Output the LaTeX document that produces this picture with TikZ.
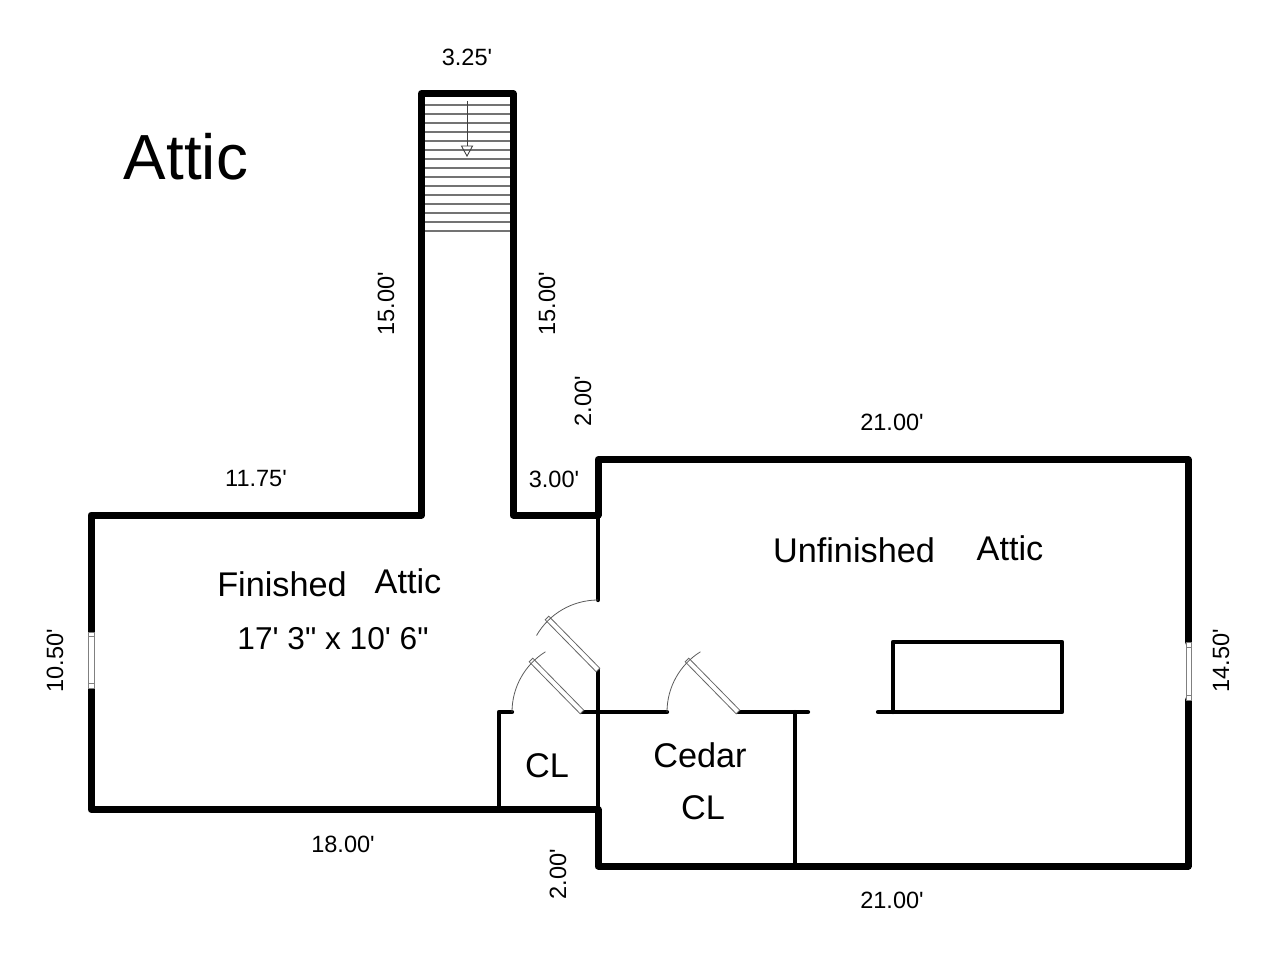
\documentclass[tikz,border=0pt]{standalone}
\usepackage{fontspec}
\setmainfont{Liberation Sans}[Ligatures=TeXOff]
\usetikzlibrary{arrows.meta}

% door leaf, given by its hinge
\newcommand{\doorleaf}[1]{\draw[door leaf] (#1) ++(1.8,-1.8) -- ++(-3.6,3.6) -- ++(-51,-52) -- ++(3.6,-3.6) -- cycle;}

\begin{document}
\begin{tikzpicture}[
    x=0.02cm, y=-0.02cm,
    % --- styles ---
    outer wall/.style={line width=7*0.569pt, line join=round, line cap=round},
    inner wall/.style={line width=4.2*0.569pt, line join=round, line cap=round},
    door leaf/.style={line width=0.45pt, draw=black!60, fill=white},
    door swing/.style={line width=0.45pt, draw=black!65},
    window pane/.style={line width=0.45pt, draw=black!50, fill=white},
    stair tread/.style={line width=0.6pt, draw=black!55},
    stair arrow/.style={line width=0.5pt, draw=black!75, -{Triangle[open, length=6.5pt, width=7pt]}},
    dim text/.style={font=\fontsize{13.4}{16}\selectfont},
    room text/.style={font=\fontsize{19.5}{23}\selectfont},
    size text/.style={font=\fontsize{18}{22}\selectfont},
    title text/.style={font=\fontsize{36.3}{42}\selectfont}
]
    \useasboundingbox (0,0) rectangle (1280,960);

    % --- 1. outer walls ---
    \draw[outer wall] (598,515) -- (513,515) -- (513,93.5) -- (421.5,93.5) -- (421.5,515) -- (91,515) -- (91,632);
    \draw[outer wall] (91,688) -- (91,809.5) -- (598,809.5) -- (598,866) -- (1188,866) -- (1188,700);
    \draw[outer wall] (1188,642) -- (1188,459.5) -- (598,459.5) -- (598,515);

    % --- 2. inner walls ---
    \draw[inner wall] (598,515) -- (598,600);
    \draw[inner wall] (598,670) -- (598,809);
    \draw[inner wall] (512,712) -- (499,712) -- (499,809);
    \draw[inner wall] (582,712) -- (667,712);
    \draw[inner wall] (738,712) -- (808,712);
    \draw[inner wall] (795,712) -- (795,866);
    \draw[inner wall] (878,712) -- (1062,712) -- (1062,642) -- (893,642) -- (893,712);

    % --- 3. doors ---
    \doorleaf{598,670}
    \draw[door swing] (598,600) arc[start angle=90, end angle=150, radius=1.42cm];
    \doorleaf{582,712}
    \draw[door swing] (512,712) arc[start angle=180, end angle=122, radius=1.42cm];
    \doorleaf{738,712}
    \draw[door swing] (667,712) arc[start angle=180, end angle=122, radius=1.42cm];

    % --- 4. windows ---
    \draw[window pane] (88,632) rectangle (94,688);
    \draw[window pane] (88,636) -- (94,636) (88,683) -- (94,683);
    \draw[window pane] (1186,642) rectangle (1191,700);
    \draw[window pane] (1186,647) -- (1191,647) (1186,695) -- (1191,695);

    % --- 5. stairs ---
    \foreach \y in {105,114,...,231} {
        \draw[stair tread] (425,\y) -- (510,\y);
    }
    \draw[stair arrow] (467,101) -- (467,157);

    % --- 6. labels ---
    \node[title text] (title) at (186,157) {Attic};

    \node[room text] (finished) at (282,584) {Finished};
    \node[room text] (finished_b) at (408,581) {Attic};
    \node[size text] (finished_size) at (333,639) {17' 3" x 10' 6"};
    \node[room text] (unfinished) at (854,550) {Unfinished};
    \node[room text] (unfinished_b) at (1010,548) {Attic};
    \node[room text] (cedar) at (700,755) {Cedar};
    \node[room text] (cedar_cl) at (703,808) {CL};
    \node[room text] (closet) at (547,766) {CL};

    \node[dim text] (dim_top) at (467,57) {3.25'};
    \node[dim text, rotate=90] (dim_stair_l) at (386,304) {15.00'};
    \node[dim text, rotate=90] (dim_stair_r) at (547,304) {15.00'};
    \node[dim text, rotate=90] (dim_step_v) at (583,401) {2.00'};
    \node[dim text] (dim_unf_top) at (892,422) {21.00'};
    \node[dim text] (dim_fin_top) at (256,479) {11.75'};
    \node[dim text] (dim_step_h) at (554,479) {3.00'};
    \node[dim text, rotate=90] (dim_left) at (55,661) {10.50'};
    \node[dim text, rotate=90] (dim_right) at (1221,661) {14.50'};
    \node[dim text] (dim_fin_bot) at (343,844) {18.00'};
    \node[dim text, rotate=90] (dim_low_v) at (558,874) {2.00'};
    \node[dim text] (dim_unf_bot) at (892,900) {21.00'};

\end{tikzpicture}
\end{document}
